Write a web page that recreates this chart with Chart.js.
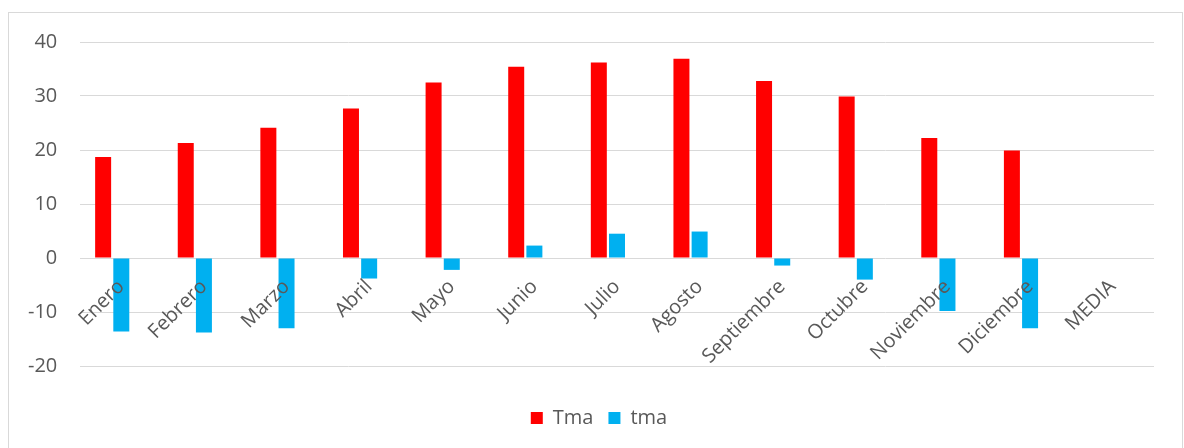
<!DOCTYPE html>
<html>
<head>
<meta charset="utf-8">
<script src="https://cdn.jsdelivr.net/npm/chart.js@4"></script>
<style>
  html, body { margin: 0; padding: 0; background: #ffffff; }
  #wrap { width: 1184px; height: 448px; position: relative; }
</style>
</head>
<body>
<div id="wrap"><canvas id="chart" width="1184" height="448"></canvas></div>
<script>
// Monthly categories plus the annual average column
const months = ['Enero', 'Febrero', 'Marzo', 'Abril', 'Mayo', 'Junio', 'Julio',
  'Agosto', 'Septiembre', 'Octubre', 'Noviembre', 'Diciembre', 'MEDIA'];

// Tma: absolute maximum temperature (°C)
const tmaMax = [18.7, 21.3, 24.1, 27.7, 32.5, 35.4, 36.2, 36.9, 32.8, 29.9, 22.2, 19.9, null];

// tma: absolute minimum temperature (°C)
const tmaMin = [-13.6, -13.8, -13.0, -3.8, -2.2, 2.3, 4.5, 4.9, -1.4, -4.0, -9.8, -13.0, null];

// Third, empty series of the sheet: it keeps its slot in each group
const blankSeries = [null, null, null, null, null, null, null, null, null, null, null, null, null];

// Value axis ticks
const yTicks = [-20, -10, 0, 10, 20, 30, 40];

const FONT = '"Open Sans", "Noto Sans", sans-serif';
const TEXT = '#595959';
const GRID = '#d9d9d9';

// Light outer frame around the whole chart
const framePlugin = {
  id: 'frame',
  beforeDraw(chart) {
    const ctx = chart.ctx;
    ctx.save();
    ctx.strokeStyle = GRID;
    ctx.lineWidth = 1;
    ctx.strokeRect(8.5, 12.5, 1174, 470);
    ctx.restore();
  }
};

new Chart(document.getElementById('chart'), {
  type: 'bar',
  data: {
    labels: months,
    datasets: [
      { label: 'Tma', data: tmaMax, backgroundColor: '#ff0000' },
      { label: 'tma', data: tmaMin, backgroundColor: '#00b0f0' },
      { label: '', data: blankSeries, backgroundColor: 'rgba(0,0,0,0)' }
    ]
  },
  options: {
    responsive: false,
    animation: false,
    devicePixelRatio: 1,
    categoryPercentage: 0.66,
    barPercentage: 0.88,
    layout: { padding: { top: 42, left: 44, right: 30, bottom: 10 } },
    plugins: {
      tooltip: { enabled: false },
      legend: {
        position: 'bottom',
        title: { display: true, text: ' ', font: { size: 10 }, padding: { top: 15, bottom: 0 } },
        labels: {
          boxWidth: 12,
          boxHeight: 12,
          padding: 15,
          color: TEXT,
          font: { family: FONT, size: 20 },
          filter: item => item.text !== ''
        }
      }
    },
    scales: {
      x: {
        position: { y: 0 },
        grid: { display: false, drawTicks: false },
        border: { display: false },
        ticks: {
          z: 1,
          autoSkip: false,
          minRotation: 45,
          maxRotation: 45,
          padding: 17,
          color: TEXT,
          font: { family: FONT, size: 20 }
        }
      },
      y: {
        min: yTicks[0],
        max: yTicks[yTicks.length - 1],
        afterBuildTicks: scale => { scale.ticks = yTicks.map(v => ({ value: v })); },
        afterFit: scale => { scale.width = 36; },
        grid: { color: GRID, lineWidth: 1, drawTicks: false },
        border: { display: false },
        ticks: {
          mirror: true,
          crossAlign: 'far',
          padding: -52,
          color: TEXT,
          font: { family: FONT, size: 20 }
        }
      }
    }
  },
  plugins: [framePlugin]
});
</script>
</body>
</html>
